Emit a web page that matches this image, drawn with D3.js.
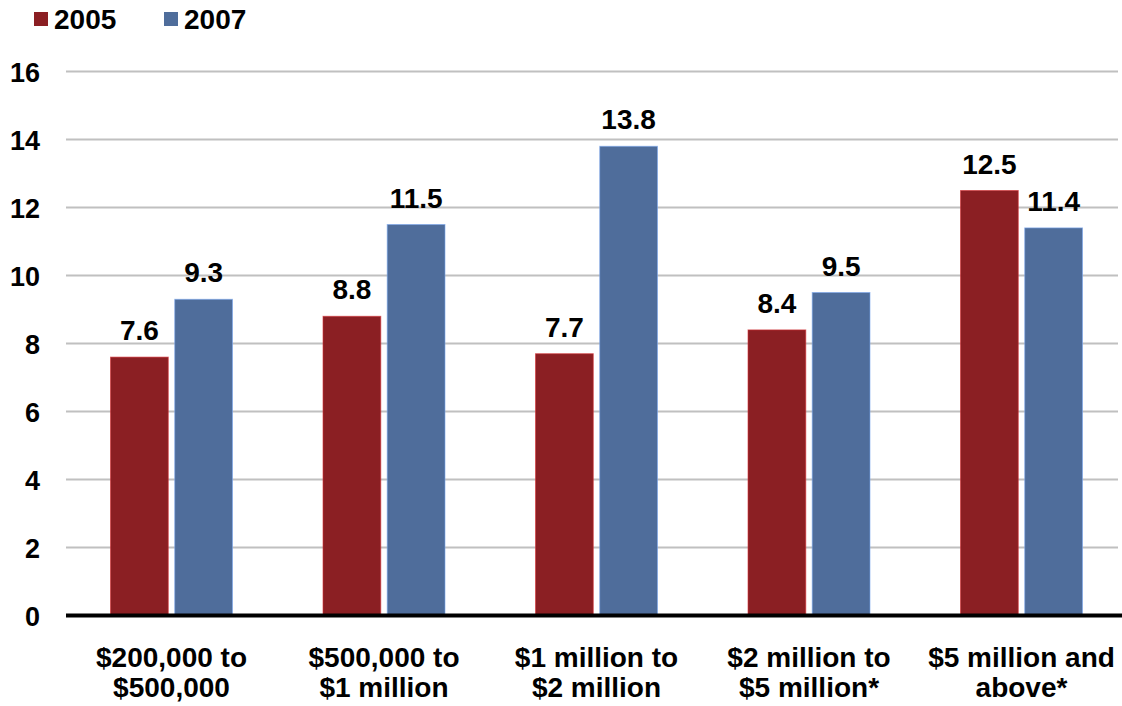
<!DOCTYPE html>
<html><head><meta charset="utf-8">
<script src="https://cdn.jsdelivr.net/npm/d3@7"></script>
<style>
body{margin:0;background:#fff;}
text{font-family:"Liberation Sans",Arial,sans-serif;font-weight:bold;fill:#000;}
</style></head>
<body>
<svg id="chart" width="1122" height="706"></svg>
<script>
const categories = [["$200,000 to","$500,000"],["$500,000 to","$1 million"],["$1 million to","$2 million"],["$2 million to","$5 million*"],["$5 million and","above*"]];
const seriesNames = ["2005","2007"];
const values2005 = [7.6, 8.8, 7.7, 8.4, 12.5];
const values2007 = [9.3, 11.5, 13.8, 9.5, 11.4];
const yTicks = [0,2,4,6,8,10,12,14,16];
const colors = ["#8B1F23","#4F6D9B"];

const svg = d3.select("#chart");
const catKeys = categories.map((c,i)=>i);
const x0 = d3.scaleBand().domain(catKeys).range([65.25,1127.75]).padding(0);
const bw = x0.bandwidth();
const x1 = d3.scaleBand().domain(seriesNames).range([bw/2-61, bw/2+61]).paddingInner(0.1).paddingOuter(0);
const y = d3.scaleLinear().domain([0,16]).range([615.5,71.5]);

// gridlines
svg.append("g").selectAll("line").data(yTicks.filter(t=>t>0)).join("line")
  .attr("x1",66).attr("x2",1118)
  .attr("y1",d=>y(d)).attr("y2",d=>y(d))
  .attr("stroke","#c0c0c0").attr("stroke-width",2);

// y axis labels
const yAxis = d3.axisLeft(y).tickValues(yTicks).tickSize(0).tickPadding(0);
const yg = svg.append("g").attr("transform","translate(40,0)").call(yAxis);
yg.select(".domain").remove();
yg.selectAll("text").style("font-size","27px").attr("dy","0.36em").attr("x",0);

// bars
const data = categories.map((c,i)=>({i, vals:[values2005[i],values2007[i]]}));
const groups = svg.append("g").selectAll("g").data(data).join("g")
  .attr("transform",d=>`translate(${x0(d.i)},0)`);
groups.selectAll("rect").data(d=>d.vals.map((v,k)=>({k,v}))).join("rect")
  .attr("x",d=>x1(seriesNames[d.k])).attr("width",x1.bandwidth())
  .attr("y",d=>y(d.v)).attr("height",d=>y(0)-y(d.v))
  .attr("fill",d=>colors[d.k])
  .attr("stroke",d=>d3.color(colors[d.k]).brighter(1.2)).attr("stroke-width",1).attr("stroke-opacity",0.6);
groups.selectAll("text.val").data(d=>d.vals.map((v,k)=>({k,v}))).join("text")
  .attr("class","val")
  .attr("x",d=>x1(seriesNames[d.k])+x1.bandwidth()/2)
  .attr("y",d=>y(d.v)-17)
  .attr("text-anchor","middle").style("font-size","28px")
  .text(d=>d.v.toFixed(1));

// x axis line
svg.append("line").attr("x1",66).attr("x2",1122).attr("y1",y(0)).attr("y2",y(0))
  .attr("stroke","#000").attr("stroke-width",4);

// x labels
const xl = svg.append("g").selectAll("text").data(categories).join("text")
  .attr("text-anchor","middle").style("font-size","28px")
  .attr("transform",(d,i)=>`translate(${x0(i)+bw/2},0)`);
xl.selectAll("tspan").data(d=>d).join("tspan")
  .attr("x",0).attr("y",(d,j)=>667+j*30).text(d=>d);

// legend
const leg = svg.append("g");
const legX = [34,164];
seriesNames.forEach((s,k)=>{
  leg.append("rect").attr("x",legX[k]).attr("y",12).attr("width",14).attr("height",14).attr("fill",colors[k]);
  leg.append("text").attr("x",legX[k]+20).attr("y",29).style("font-size","28px").text(s);
});
</script>
</body></html>
